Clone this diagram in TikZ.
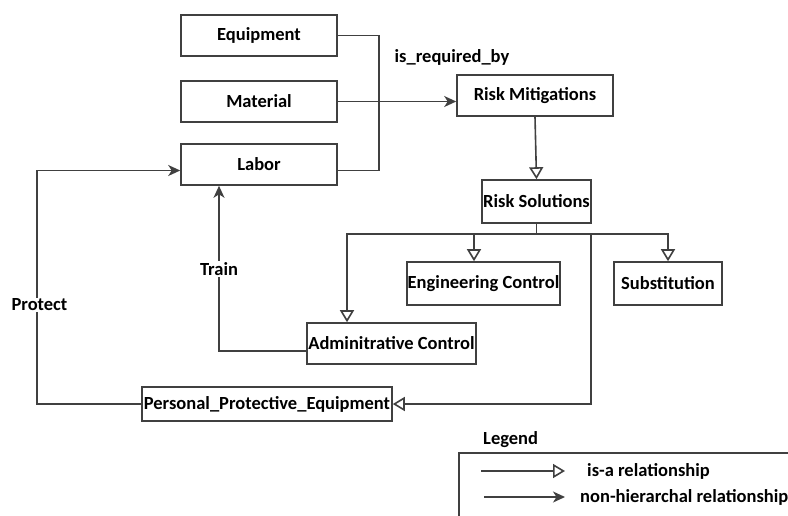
\documentclass[tikz,border=0pt]{standalone}
\usepackage{fontspec}
\setmainfont{Carlito}
\usetikzlibrary{arrows.meta,calc}
\begin{document}
\begin{tikzpicture}[x=1pt,y=-1pt,
  txt/.style={font=\bfseries\fontsize{18.5}{20}\selectfont, text=black},
  box/.style={txt, draw=black!75, line width=1.6pt, rectangle, inner sep=0pt},
  link/.style={draw=black!75, line width=1.6pt},
  isa/.style={link, -{Triangle[open, length=12pt, width=14pt]}},
  rel/.style={link, -{Stealth[length=12pt, width=11pt, inset=3.5pt]}},
  lbl/.style={txt, fill=white, inner sep=1pt}]
\clip (0,0) rectangle (788,515);
\fill[white] (0,0) rectangle (788,515);

% resources
\node[box, minimum width=156pt, minimum height=41pt] (equip)    at (259,35.5)  {Equipment};
\node[box, minimum width=156pt, minimum height=41pt] (material) at (259,101.5) {Material};
\node[box, minimum width=156pt, minimum height=41pt] (labor)    at (259,164.5) {Labor};

% risk hierarchy
\node[box, minimum width=156pt, minimum height=41pt] (riskmit) at (535,95.5)   {Risk Mitigations};
\node[box, minimum width=109pt, minimum height=43pt] (risksol) at (536.5,201.5) {Risk Solutions};
\node[box, minimum width=153pt, minimum height=43pt] (eng)     at (483.5,283.5) {Engineering Control};
\node[box, minimum width=108pt, minimum height=43pt] (subst)   at (668,283.5)   {Substitution};
\node[box, minimum width=169pt, minimum height=41pt] (admin)   at (391.5,343.5) {Adminitrative Control};
\node[box, minimum width=250pt, minimum height=34pt] (ppe)     at (267,404)     {Personal\_Protective\_Equipment};

% is_required_by bracket
\coordinate (brtop) at (379,35.5);
\coordinate (brbot) at (379,170.5);
\draw[link] (equip.east) -- (brtop) -- (brbot) -- ([yshift=-6pt]labor.east);
\draw[rel] (material.east) -- (material.east -| riskmit.west);
\node[txt] (isreq) at (452,57) {is\_required\_by};

% is-a links
\draw[isa] (riskmit.south) -- (risksol.north);
\coordinate (busc) at (536.5,234);
\coordinate (drop) at (591,404);
\draw[link] (risksol.south) -- (busc);
\draw[isa] (busc) -| ([xshift=-44.5pt]admin.north);
\draw[isa] (busc) -| ([xshift=-9.5pt]eng.north);
\draw[isa] (busc) -| (subst.north);
\draw[isa] (busc) -| (drop) -- (ppe.east);

% Train
\coordinate (trainc) at (219,351);
\draw[rel] ([yshift=-7.5pt]admin.west) -- (trainc) -- (labor.south -| trainc);
\node[lbl] (train) at (219,269) {Train};

% Protect
\coordinate (pa) at (37,404);
\coordinate (pb) at (37,170.5);
\draw[rel] (ppe.west) -- (pa) -- (pb) -- ([yshift=-6pt]labor.west);
\node[lbl] (protect) at (39.5,305) {Protect};

% legend
\node[txt, anchor=west, inner sep=0pt] (legend) at (483,440) {Legend};
\node[draw=black!75, line width=1.6pt, anchor=north west, minimum width=400pt, minimum height=100pt] (legbox) at (458,452) {};
\coordinate (l1a) at (481,471);
\coordinate (l1b) at (565,471);
\draw[isa] (l1a) -- (l1b);
\node[txt, anchor=west, inner sep=0pt] (l1t) at (587,471) {is-a relationship};
\coordinate (l2a) at (484,497);
\coordinate (l2b) at (565,497);
\draw[rel] (l2a) -- (l2b);
\node[txt, anchor=west, inner sep=0pt] (l2t) at (580,497) {non-hierarchal relationship};
\end{tikzpicture}
\end{document}
